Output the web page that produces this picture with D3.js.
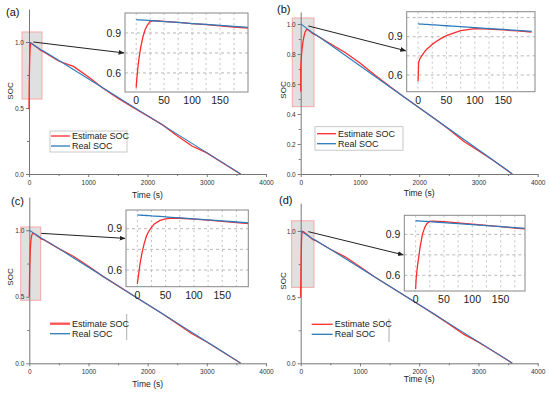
<!DOCTYPE html>
<html>
<head>
<meta charset="utf-8">
<script src="https://cdn.jsdelivr.net/npm/d3@7"></script>
<style>
  body { margin: 0; background: #fff; }
  svg { display: block; font-family: "Liberation Sans", Arial, sans-serif; }
</style>
</head>
<body>
<svg id="chart" width="550" height="393"></svg>
<script>
// ---- data ----
var startTime = [0, 1, 3, 5, 8, 12, 16, 20, 25, 30, 40, 50, 60, 75, 100, 125, 150, 175, 200];
var restTime  = [250, 500, 750, 1000, 1250, 1500, 1750, 2000, 2250, 2500, 2750, 3000, 3250, 3500, 3570];

var realStart = [1.0, 1.0, 0.999, 0.999, 0.998, 0.997, 0.996, 0.995, 0.993, 0.992, 0.989, 0.986, 0.983, 0.979, 0.971, 0.964, 0.957, 0.949, 0.942];
var realRest  = [0.93, 0.862, 0.792, 0.722, 0.652, 0.582, 0.512, 0.442, 0.372, 0.302, 0.232, 0.162, 0.092, 0.022, 0.0];

var estStartA = [0.49, 0.55, 0.64, 0.71, 0.79, 0.87, 0.925, 0.96, 0.985, 0.993, 0.99, 0.987, 0.984, 0.979, 0.97, 0.962, 0.954, 0.945, 0.936];
var estRestA  = [0.925, 0.856, 0.815, 0.737, 0.65, 0.575, 0.506, 0.44, 0.374, 0.29, 0.212, 0.16, 0.089, 0.019, 0.0];

var estStartB = [0.55, 0.70, 0.725, 0.74, 0.76, 0.785, 0.805, 0.82, 0.84, 0.857, 0.885, 0.908, 0.925, 0.947, 0.964, 0.96, 0.953, 0.945, 0.937];
var estRestB  = [0.928, 0.868, 0.81, 0.74, 0.66, 0.585, 0.512, 0.442, 0.372, 0.298, 0.218, 0.155, 0.09, 0.02, 0.0];

var estStartC = [0.5, 0.53, 0.59, 0.65, 0.72, 0.79, 0.845, 0.88, 0.91, 0.935, 0.96, 0.972, 0.977, 0.976, 0.97, 0.962, 0.954, 0.945, 0.936];
var estRestC  = [0.928, 0.862, 0.803, 0.73, 0.652, 0.582, 0.512, 0.442, 0.372, 0.298, 0.222, 0.16, 0.091, 0.021, 0.0];

var estStartD = [0.5, 0.58, 0.66, 0.72, 0.81, 0.9, 0.95, 0.98, 0.995, 0.998, 0.996, 0.993, 0.99, 0.985, 0.976, 0.966, 0.957, 0.947, 0.937];
var estRestD  = [0.928, 0.862, 0.805, 0.73, 0.652, 0.582, 0.512, 0.442, 0.372, 0.298, 0.22, 0.16, 0.091, 0.021, 0.0];

var mainXTicks  = [0, 1000, 2000, 3000, 4000];
var mainXMinor  = [500, 1500, 2500, 3500];
var insetXTicks = [0, 50, 100, 150];
var insetYTicks = [0.6, 0.9];
var insetGridX  = [0, 25, 50, 75, 100, 125, 150, 175];
var insetGridY  = [0.6, 0.75, 0.9, 1.05];
var seriesNames = ["Estimate SOC", "Real SOC"];
var panelLabels = ["(a)", "(b)", "(c)", "(d)"];

var RED = "#ff2b2b", BLUE = "#2b7bbd";

// ---- layout of each panel ----
var panels = [
  { est: [estStartA, estRestA], x0: 29, x1: 266, yZero: 174, yOne: 42, yMax: 1.25,
    yTicks: [0, 0.5, 1], yMinor: [0.25, 0.75], fmt: ".1f",
    inset: { x: 125, y: 13, w: 123, h: 79, xd: [-20, 200], yd: [0.457, 1.05] },
    box: [-118, 219, 0.568, 1.076], arrow: [73, 1.0, 0.75],
    legend: { x: 51, y: 136, len: 19, frame: [50, 131, 77, 21] },
    label: [6, 16], ylab: [10, 91], xlab: 198 },
  { est: [estStartB, estRestB], x0: 300.7, x1: 537.7, yZero: 174, yOne: 24, yMax: 1.08,
    yTicks: [0, 0.2, 0.4, 0.6, 0.8, 1.0], yMinor: [0.1, 0.3, 0.5, 0.7, 0.9], fmt: ".1f",
    inset: { x: 406.7, y: 11.7, w: 128.3, h: 80, xd: [-20, 206], yd: [0.469, 1.096] },
    box: [-142, 224, 0.449, 1.04], arrow: [128, 0.987, 0.79],
    legend: { x: 317, y: 133.7, len: 19, frame: [315, 126.7, 88, 23.5] },
    label: [277, 13], ylab: [283, 90], xlab: 196 },
  { est: [estStartC, estRestC], x0: 29.3, x1: 266, yZero: 363.3, yOne: 230.3, yMax: 1.25,
    yTicks: [0, 0.5, 1], yMinor: [0.25, 0.75], fmt: ".1f",
    inset: { x: 126, y: 210, w: 122.3, h: 76.7, xd: [-20, 196], yd: [0.479, 1.036] },
    box: [-145, 192, 0.474, 1.025], arrow: [200, 0.977, 0.83],
    legend: { x: 50, y: 323.7, len: 20, bar: [126.7, 314, 340] },
    label: [11, 205], ylab: [10, 277], xlab: 387 },
  { est: [estStartD, estRestD], x0: 300.7, x1: 537.7, yZero: 363.3, yOne: 231, yMax: 1.21,
    yTicks: [0, 0.5, 1], yMinor: [0.25, 0.75], fmt: ".1f",
    inset: { x: 404.3, y: 215.3, w: 120.7, h: 75.7, xd: [-20, 193], yd: [0.485, 1.04] },
    box: [-152, 224, 0.574, 1.077], arrow: [128, 0.995, 0.75],
    legend: { x: 311.7, y: 324.3, len: 21, bar: [389, 318.7, 342] },
    label: [279, 204], ylab: [283, 281], xlab: 382 }
];

var svg = d3.select("#chart");

var defs = svg.append("defs");
defs.append("marker")
    .attr("id", "arrowhead")
    .attr("viewBox", "0 0 10 10")
    .attr("refX", 9).attr("refY", 5)
    .attr("markerWidth", 6).attr("markerHeight", 6)
    .attr("orient", "auto")
  .append("path")
    .attr("d", "M0,1 L10,5 L0,9 Z")
    .attr("fill", "#222");

function series(time, vals) {
  return d3.zip(time, vals);
}

panels.forEach(function(p, i) {
  var g = svg.append("g");
  var pxPerUnit = p.yZero - p.yOne;

  var x = d3.scaleLinear().domain([0, 4000]).range([p.x0, p.x1]);
  var y = d3.scaleLinear().domain([0, p.yMax]).range([p.yZero, p.yZero - pxPerUnit * p.yMax]);

  // zoom window marker
  g.append("rect")
    .attr("x", x(p.box[0])).attr("y", y(p.box[3]))
    .attr("width", x(p.box[1]) - x(p.box[0]))
    .attr("height", y(p.box[2]) - y(p.box[3]))
    .attr("fill", "#e0e0e0")
    .attr("stroke", "#f6a8a8")
    .attr("stroke-width", 1);

  // axes
  g.append("g")
    .attr("transform", "translate(0," + p.yZero + ")")
    .call(d3.axisBottom(x).tickValues(mainXTicks).tickFormat(d3.format("d"))
      .tickSize(3).tickSizeOuter(0).tickPadding(3));
  g.append("g")
    .attr("transform", "translate(0," + p.yZero + ")")
    .call(d3.axisBottom(x).tickValues(mainXMinor).tickSize(2).tickFormat(""))
    .select(".domain").remove();

  g.append("g")
    .attr("transform", "translate(" + p.x0 + ",0)")
    .call(d3.axisLeft(y).tickValues(p.yTicks).tickFormat(d3.format(p.fmt))
      .tickSize(3).tickSizeOuter(0).tickPadding(2));
  g.append("g")
    .attr("transform", "translate(" + p.x0 + ",0)")
    .call(d3.axisLeft(y).tickValues(p.yMinor).tickSize(2).tickFormat(""))
    .select(".domain").remove();

  g.selectAll(".domain, .tick line").attr("stroke", "#777");
  g.selectAll(".tick text").attr("fill", "#333").attr("font-size", "6.5px")
    .attr("font-family", "Liberation Sans, Arial, sans-serif");

  // curves
  var line = d3.line().x(function(d) { return x(d[0]); }).y(function(d) { return y(d[1]); });
  var allTime = startTime.concat(restTime);
  g.append("path")
    .datum(series(allTime, p.est[0].concat(p.est[1])))
    .attr("d", line).attr("fill", "none")
    .attr("stroke", RED).attr("stroke-width", 1.3);
  g.append("path")
    .datum(series(allTime, realStart.concat(realRest)))
    .attr("d", line).attr("fill", "none")
    .attr("stroke", BLUE).attr("stroke-width", 1.1);

  // axis titles
  g.append("text")
    .attr("transform", "translate(" + p.ylab[0] + "," + p.ylab[1] + ") rotate(-90)")
    .attr("text-anchor", "middle").attr("dy", "0.35em")
    .attr("font-size", "8px").attr("fill", "#222")
    .text("SOC");
  g.append("text")
    .attr("x", (p.x0 + p.x1) / 2).attr("y", p.xlab)
    .attr("text-anchor", "middle")
    .attr("font-size", "8.5px").attr("fill", "#222")
    .text("Time (s)");

  g.append("text")
    .attr("x", p.label[0]).attr("y", p.label[1])
    .attr("font-size", "11px").attr("fill", "#111")
    .text(panelLabels[i]);

  // legend
  var L = p.legend;
  if (L.frame) {
    g.append("rect")
      .attr("x", L.frame[0]).attr("y", L.frame[1])
      .attr("width", L.frame[2]).attr("height", L.frame[3])
      .attr("fill", "#fff").attr("stroke", "#bbb").attr("stroke-width", 0.8);
  }
  if (L.bar) {
    g.append("line")
      .attr("x1", L.bar[0]).attr("x2", L.bar[0])
      .attr("y1", L.bar[1]).attr("y2", L.bar[2])
      .attr("stroke", "#999").attr("stroke-width", 0.8);
  }
  [RED, BLUE].forEach(function(c, k) {
    var ly = L.y + k * 10;
    g.append("line")
      .attr("x1", L.x).attr("x2", L.x + L.len)
      .attr("y1", ly).attr("y2", ly)
      .attr("stroke", c).attr("stroke-width", (i === 2 && k === 0) ? 2.4 : 1.3)
      .attr("stroke-opacity", (i === 2 && k === 0) ? 0.8 : 1);
    g.append("text")
      .attr("x", L.x + L.len + 2).attr("y", ly)
      .attr("dy", "0.35em")
      .attr("font-size", "9px").attr("fill", "#222")
      .text(seriesNames[k]);
  });

  // inset
  var I = p.inset;
  var ix = d3.scaleLinear().domain(I.xd).range([I.x, I.x + I.w]);
  var iy = d3.scaleLinear().domain(I.yd).range([I.y + I.h, I.y]);

  // arrow from the zoom window to the inset
  g.append("line")
    .attr("x1", x(p.arrow[0])).attr("y1", y(p.arrow[1]))
    .attr("x2", I.x - 1).attr("y2", iy(p.arrow[2]))
    .attr("stroke", "#222").attr("stroke-width", 1)
    .attr("marker-end", "url(#arrowhead)");

  g.append("rect")
    .attr("x", I.x).attr("y", I.y).attr("width", I.w).attr("height", I.h)
    .attr("fill", "#fff");

  var clipId = "clip" + i;
  defs.append("clipPath").attr("id", clipId)
    .append("rect")
      .attr("x", I.x).attr("y", I.y).attr("width", I.w).attr("height", I.h);

  var ig = g.append("g");
  ig.selectAll(".gx")
    .data(insetGridX)
    .enter().append("line")
      .attr("x1", ix).attr("x2", ix)
      .attr("y1", I.y).attr("y2", I.y + I.h)
      .attr("stroke", "#aaa").attr("stroke-width", 0.7)
      .attr("stroke-dasharray", "2,3");
  ig.selectAll(".gy")
    .data(insetGridY.filter(function(v) { return v > I.yd[0] && v < I.yd[1] - 0.02; }))
    .enter().append("line")
      .attr("x1", I.x).attr("x2", I.x + I.w)
      .attr("y1", iy).attr("y2", iy)
      .attr("stroke", "#999").attr("stroke-width", 0.7)
      .attr("stroke-dasharray", "3,3");

  var iline = d3.line().x(function(d) { return ix(d[0]); }).y(function(d) { return iy(d[1]); });
  var lines = ig.append("g").attr("clip-path", "url(#" + clipId + ")");
  lines.append("path")
    .datum(series(startTime, p.est[0]))
    .attr("d", iline).attr("fill", "none")
    .attr("stroke", RED).attr("stroke-width", 1.3);
  lines.append("path")
    .datum(series(startTime, realStart))
    .attr("d", iline).attr("fill", "none")
    .attr("stroke", BLUE).attr("stroke-width", 1.3);

  g.append("rect")
    .attr("x", I.x).attr("y", I.y).attr("width", I.w).attr("height", I.h)
    .attr("fill", "none").attr("stroke", "#888").attr("stroke-width", 1);

  ig.selectAll(".ylab")
    .data(insetYTicks)
    .enter().append("text")
      .attr("x", I.x - 4).attr("y", iy)
      .attr("dy", "0.35em").attr("text-anchor", "end")
      .attr("font-size", "10.5px").attr("fill", "#222")
      .text(d3.format(".1f"));
  ig.selectAll(".xlab")
    .data(insetXTicks)
    .enter().append("text")
      .attr("x", ix).attr("y", I.y + I.h + 12)
      .attr("text-anchor", "middle")
      .attr("font-size", "10.5px").attr("fill", "#222")
      .text(function(d) { return d; });
});
</script>
</body>
</html>
